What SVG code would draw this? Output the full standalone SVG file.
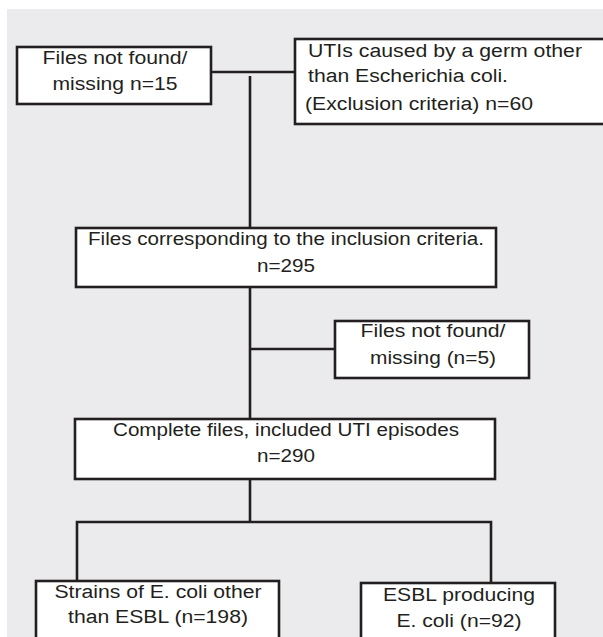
<svg xmlns="http://www.w3.org/2000/svg" width="603" height="637" viewBox="0 0 603 637">
<style>
.box{fill:#ffffff;stroke:#231f20;stroke-width:2.6}
.ln{stroke:#231f20;stroke-width:2.6;fill:none}
text{font-family:"Liberation Sans",Arial,sans-serif;font-size:18px;fill:#231f20}
.c{text-anchor:middle}
</style>
<rect x="0" y="0" width="603" height="637" fill="#ffffff"/>
<rect x="7" y="9" width="596" height="628" fill="#ebebed"/>
<g id="connectors">
<line class="ln" x1="211" y1="72" x2="295" y2="72"/>
<line class="ln" x1="250" y1="76" x2="250" y2="228"/>
<line class="ln" x1="250" y1="287" x2="250" y2="419"/>
<line class="ln" x1="250" y1="349" x2="335" y2="349"/>
<line class="ln" x1="250" y1="479" x2="250" y2="522"/>
<polyline class="ln" points="77,581 77,522 491,522 491,583"/>
</g>
<g id="n1">
<rect class="box" x="17" y="47" width="194" height="57"/>
<text class="c" x="115" y="64" textLength="145" lengthAdjust="spacingAndGlyphs">Files not found/</text>
<text class="c" x="115" y="90" textLength="125" lengthAdjust="spacingAndGlyphs">missing n=15</text>
</g>
<g id="n2">
<rect class="box" x="295" y="39" width="320" height="85"/>
<text x="308" y="57" textLength="274" lengthAdjust="spacingAndGlyphs">UTIs caused by a germ other</text>
<text x="308" y="82" textLength="200" lengthAdjust="spacingAndGlyphs">than Escherichia coli.</text>
<text x="305" y="110" textLength="228" lengthAdjust="spacingAndGlyphs">(Exclusion criteria) n=60</text>
</g>
<g id="n3">
<rect class="box" x="76" y="228" width="420" height="59"/>
<text class="c" x="286" y="245" textLength="396" lengthAdjust="spacingAndGlyphs">Files corresponding to the inclusion criteria.</text>
<text class="c" x="286" y="272" textLength="58" lengthAdjust="spacingAndGlyphs">n=295</text>
</g>
<g id="n4">
<rect class="box" x="335" y="321" width="194" height="57"/>
<text class="c" x="433" y="337" textLength="145" lengthAdjust="spacingAndGlyphs">Files not found/</text>
<text class="c" x="433" y="364" textLength="126" lengthAdjust="spacingAndGlyphs">missing (n=5)</text>
</g>
<g id="n5">
<rect class="box" x="75" y="419" width="420" height="60"/>
<text class="c" x="286" y="436" textLength="346" lengthAdjust="spacingAndGlyphs">Complete files, included UTI episodes</text>
<text class="c" x="286" y="462" textLength="58" lengthAdjust="spacingAndGlyphs">n=290</text>
</g>
<g id="n6">
<rect class="box" x="36" y="581" width="243" height="70"/>
<text class="c" x="158" y="598" textLength="207" lengthAdjust="spacingAndGlyphs">Strains of E. coli other</text>
<text class="c" x="158" y="623" textLength="180" lengthAdjust="spacingAndGlyphs">than ESBL (n=198)</text>
</g>
<g id="n7">
<rect class="box" x="361" y="583" width="194" height="70"/>
<text class="c" x="459" y="601" textLength="152" lengthAdjust="spacingAndGlyphs">ESBL producing</text>
<text class="c" x="459" y="627" textLength="125" lengthAdjust="spacingAndGlyphs">E. coli (n=92)</text>
</g>
</svg>
